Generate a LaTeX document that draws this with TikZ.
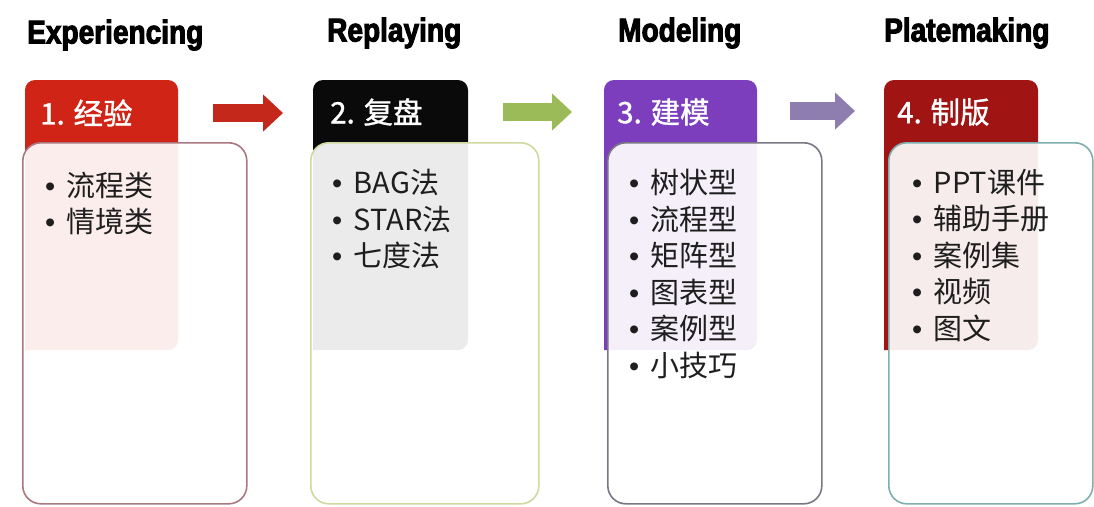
\documentclass[tikz,border=0pt]{standalone}
\usepackage{fontspec}
\setmainfont{Liberation Sans}
\newfontfamily\cjk{Noto Sans CJK SC}
\newfontfamily\cjkb[FakeBold=1.2]{Noto Sans CJK SC}
\newfontfamily\ttlfont[FakeStretch=0.85,FakeBold=3]{Liberation Sans Bold}
\usetikzlibrary{arrows.meta}
\definecolor{tabA}{RGB}{208,36,22}
\definecolor{tabB}{RGB}{10,10,10}
\definecolor{tabC}{RGB}{125,62,190}
\definecolor{tabD}{RGB}{160,20,20}
\definecolor{arrA}{RGB}{196,40,26}
\definecolor{arrB}{RGB}{155,187,89}
\definecolor{arrC}{RGB}{142,126,176}
\definecolor{bdA}{RGB}{170,120,128}
\definecolor{bdB}{RGB}{205,218,160}
\definecolor{bdC}{RGB}{120,120,132}
\definecolor{bdD}{RGB}{125,175,175}
\definecolor{txt}{RGB}{30,30,30}
\newcommand\bul{\makebox[21.5pt][l]{{\rmfamily\char"2022}}}
\tikzset{
  ttl/.style={anchor=west, inner sep=0pt, font=\ttlfont\fontsize{33}{33}\selectfont, text=black},
  tablabel/.style={anchor=west, inner sep=0pt, text=white, font=\cjkb\fontsize{29.5}{29.5}\selectfont},
  card/.style={anchor=north west, line width=1.6pt, fill=white, fill opacity=0.92,
               rounded corners=18pt, minimum width=#1, minimum height=361pt, inner sep=0pt},
  items/.style={anchor=north west, inner sep=0pt, align=left, text=txt,
                font=\cjk\fontsize{29}{36.5}\selectfont},
  blockarrow/.style={line width=18pt, -{Triangle[length=20pt,width=36pt]}}
}
\begin{document}
\begin{tikzpicture}[x=1pt,y=-1pt]
\useasboundingbox[fill=white] (0,0) rectangle (1094,506);

% titles
\node[ttl] (h1) at (27,35) {Experiencing};
\node[ttl] (h2) at (327,33) {Replaying};
\node[ttl] (h3) at (618,33) {Modeling};
\node[ttl] (h4) at (884,33) {Platemaking};

% tabs
\fill[tabA] (25,350) {[rounded corners=10pt] -- (25,80) -- (178,80) -- (178,350)} -- cycle;
\fill[tabB] (313,350) {[rounded corners=10pt] -- (313,80) -- (468,80) -- (468,350)} -- cycle;
\fill[tabC] (604,350) {[rounded corners=10pt] -- (604,80) -- (757,80) -- (757,350)} -- cycle;
\fill[tabD] (884,350) {[rounded corners=10pt] -- (884,80) -- (1038,80) -- (1038,350)} -- cycle;

\node[tablabel] (t1) at (40,113) {1. 经验};
\node[tablabel] (t2) at (330,112) {2. 复盘};
\node[tablabel] (t3) at (617,112) {3. 建模};
\node[tablabel] (t4) at (897,112) {4. 制版};

% cards
\node[card=224pt, draw=bdA] (b1) at (22,142) {};
\node[card=228pt, draw=bdB] (b2) at (310,142) {};
\node[card=214pt, draw=bdC] (b3) at (607,142) {};
\node[card=204pt, draw=bdD] (b4) at (888,142) {};

% items
\node[items] (l1) at (45,171.5) {\bul 流程类\\\bul 情境类};
\node[items] (l2) at (332,169) {\bul BAG法\\\bul STAR法\\\bul 七度法};
\node[items] (l3) at (629,169) {\bul 树状型\\\bul 流程型\\\bul 矩阵型\\\bul 图表型\\\bul 案例型\\\bul 小技巧};
\node[items] (l4) at (912,169) {\bul PPT课件\\\bul 辅助手册\\\bul 案例集\\\bul 视频\\\bul 图文};

% arrows
\coordinate (a1s) at (213,113);
\coordinate (a1e) at (283,113);
\coordinate (a2s) at (503,112);
\coordinate (a2e) at (572,112);
\coordinate (a3s) at (790,111);
\coordinate (a3e) at (855,111);
\draw[blockarrow, arrA] (a1s) -- (a1e);
\draw[blockarrow, arrB] (a2s) -- (a2e);
\draw[blockarrow, arrC] (a3s) -- (a3e);
\end{tikzpicture}
\end{document}
